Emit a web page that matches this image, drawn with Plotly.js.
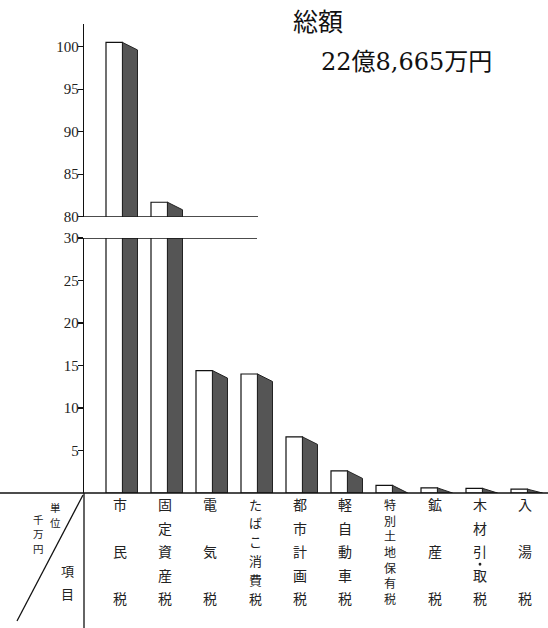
<!DOCTYPE html>
<html><head><meta charset="utf-8">
<script src="https://cdn.plot.ly/plotly-3.0.1.min.js"></script>
<style>html,body{margin:0;padding:0;background:#fff}#chart{width:548px;height:628px}</style>
</head><body><div id="chart"></div>
<script>
// ---- data ----
const categories = ['市民税','固定資産税','電気税','たばこ消費税','都市計画税','軽自動車税','特別土地保有税','鉱産税','木材引取税','入湯税'];
const labelText  = ['市民税','固定資産税','電気税','たばこ消費税','都市計画税','軽自動車税','特別土地保有税','鉱産税','木材引・取税','入湯税'];
const values = [100.5, 81.7, 14.4, 14.0, 6.6, 2.6, 0.9, 0.6, 0.55, 0.45];
const lowerTicks = [5, 10, 15, 20, 25, 30];
const upperTicks = [80, 85, 90, 95, 100];
const titleMain = '総額';
const titleAmount = '22億8,665万円';
const unitCol1 = '単位';
const unitCol2 = '千万円';
const itemLabel = '項目';

// ---- geometry ----
const W = 548, H = 628, L = 84, R = 0, T = 24, B = 135;
const plotW = W - L - R, plotH = H - T - B;
const pxPerX = 45;
const x0r = -0.8;
const px2x = p => (p - L) / plotW;
const py2y = p => (H - B - p) / plotH;
const xval2paper = v => (v - x0r) * pxPerX / plotW;
const lowerTopPx = 238, upperBotPx = 216.7;
const lowerDom = [0, (H - B - lowerTopPx) / plotH];
const upperDom = [(H - B - upperBotPx) / plotH, 1];
const pxPerY = (H - B - lowerTopPx) / 30;
const upperMax = 80 + (upperBotPx - T) / pxPerY;

const idx = categories.map((c, i) => i);
const wOff = -14 / pxPerX, wWid = 16.5 / pxPerX;
const dA = 2.5 / pxPerX, dB = 17.5 / pxPerX;
const drop = 7.5 / pxPerY;

const dx = [], dy = [];
values.forEach((v, i) => {
  const d = Math.min(drop, v);
  dx.push(i + dA, i + dA, i + dB, i + dB, i + dA, null);
  dy.push(0, v, v - d, 0, 0, null);
});

const whiteBar = ax => ({
  type: 'bar', x: idx, y: values, yaxis: ax, offset: wOff, width: wWid,
  marker: {color: '#ffffff', line: {color: '#111', width: 1.2}},
  hoverinfo: 'skip', showlegend: false
});
const darkSide = ax => ({
  type: 'scatter', mode: 'lines', x: dx, y: dy, yaxis: ax,
  fill: 'toself', fillcolor: '#555555', line: {color: '#222', width: 1},
  hoverinfo: 'skip', showlegend: false
});

const data = [whiteBar('y'), darkSide('y'), whiteBar('y2'), darkSide('y2')];

const tickFont = {family: 'Liberation Serif, DejaVu Serif, serif', size: 15, color: '#222'};
const cjk = 'Noto Sans CJK JP, sans-serif';

const annotations = [];
const shapes = [];
// category labels (vertical)
const labTop = 504, labBot = 598;
labelText.forEach((s, i) => {
  const chars = [...s];
  const main = chars.filter(c => c !== '・');
  const n = main.length;
  const step = (labBot - labTop) / (n - 1);
  if (step < 18) {
    const fs = step / 1.3;
    annotations.push({xref: 'x', yref: 'paper', x: i, y: py2y((labTop + labBot) / 2), text: main.join('<br>'),
      showarrow: false, font: {family: cjk, size: fs, color: '#222'}, xanchor: 'center', yanchor: 'middle'});
    return;
  }
  const fs = step < 20 ? 13 : 14;
  let k = 0;
  chars.forEach(c => {
    if (c === '・') {
      const cx = xval2paper(i) * plotW + L, cy = labTop + (k - 0.5) * step + 1.5;
      shapes.push({type: 'circle', xref: 'paper', yref: 'paper', x0: px2x(cx - 1.4), x1: px2x(cx + 1.4),
        y0: py2y(cy - 1.4), y1: py2y(cy + 1.4), fillcolor: '#222', line: {width: 0}});
      return;
    }
    annotations.push({xref: 'x', yref: 'paper', x: i, y: py2y(labTop + k * step), text: c,
      showarrow: false, font: {family: cjk, size: fs, color: '#222'}, xanchor: 'center', yanchor: 'middle'});
    k++;
  });
});

// unit / item labels
[...unitCol1].forEach((c, k) => annotations.push({xref: 'paper', yref: 'paper', x: px2x(55), y: py2y(507 + k * 15),
  text: c, showarrow: false, font: {family: cjk, size: 10.5, color: '#222'}, xanchor: 'center', yanchor: 'middle'}));
[...unitCol2].forEach((c, k) => annotations.push({xref: 'paper', yref: 'paper', x: px2x(38), y: py2y(519 + k * 14.5),
  text: c, showarrow: false, font: {family: cjk, size: 10.5, color: '#222'}, xanchor: 'center', yanchor: 'middle'}));
[...itemLabel].forEach((c, k) => annotations.push({xref: 'paper', yref: 'paper', x: px2x(67), y: py2y(570 + k * 23),
  text: c, showarrow: false, font: {family: cjk, size: 13, color: '#222'}, xanchor: 'center', yanchor: 'middle'}));
// totals
annotations.push({xref: 'paper', yref: 'paper', x: px2x(291), y: py2y(20), text: titleMain, showarrow: false,
  font: {family: cjk, size: 25, color: '#111'}, xanchor: 'left', yanchor: 'middle'});
annotations.push({xref: 'paper', yref: 'paper', x: px2x(319), y: py2y(62), text: titleAmount, showarrow: false,
  font: {family: 'DejaVu Serif, Noto Sans CJK JP, serif', size: 24, color: '#111'}, xanchor: 'left', yanchor: 'middle'});

const ln = {color: '#111', width: 1.3};
shapes.push(
  {type: 'line', xref: 'paper', yref: 'paper', x0: px2x(0), x1: 1, y0: 0, y1: 0, line: {color: '#111', width: 1.6}},
  {type: 'line', xref: 'paper', yref: 'paper', x0: 0, x1: 0, y0: 0, y1: py2y(628), line: ln},
  {type: 'line', xref: 'paper', yref: 'paper', x0: px2x(83), y0: py2y(495), x1: px2x(17), y1: py2y(621), line: ln},
  {type: 'line', xref: 'paper', yref: 'y2', x0: 0, x1: px2x(258), y0: 80, y1: 80, line: ln},
  {type: 'line', xref: 'paper', yref: 'y', x0: 0, x1: px2x(257), y0: 30, y1: 30, line: ln}
);

const yCommon = {showline: true, linecolor: '#111', linewidth: 1.3, ticks: 'outside', ticklen: 5,
  tickcolor: '#111', tickwidth: 1.2, showgrid: false, zeroline: false, tickfont: tickFont, fixedrange: true,
  ticklabelstandoff: -4};

const layout = {
  width: W, height: H,
  margin: {l: L, r: R, t: T, b: B, pad: 0},
  paper_bgcolor: '#ffffff', plot_bgcolor: 'rgba(0,0,0,0)',
  showlegend: false, barmode: 'overlay',
  xaxis: {range: [x0r, x0r + plotW / pxPerX], showticklabels: false, showgrid: false, zeroline: false,
    showline: false, ticks: '', fixedrange: true},
  yaxis: Object.assign({}, yCommon, {domain: lowerDom, range: [0, 30], tickvals: lowerTicks}),
  yaxis2: Object.assign({}, yCommon, {domain: upperDom, range: [80, upperMax], tickvals: upperTicks, anchor: 'x'}),
  annotations: annotations,
  shapes: shapes
};

Plotly.newPlot('chart', data, layout, {displayModeBar: false, staticPlot: true});
</script>
</body></html>
